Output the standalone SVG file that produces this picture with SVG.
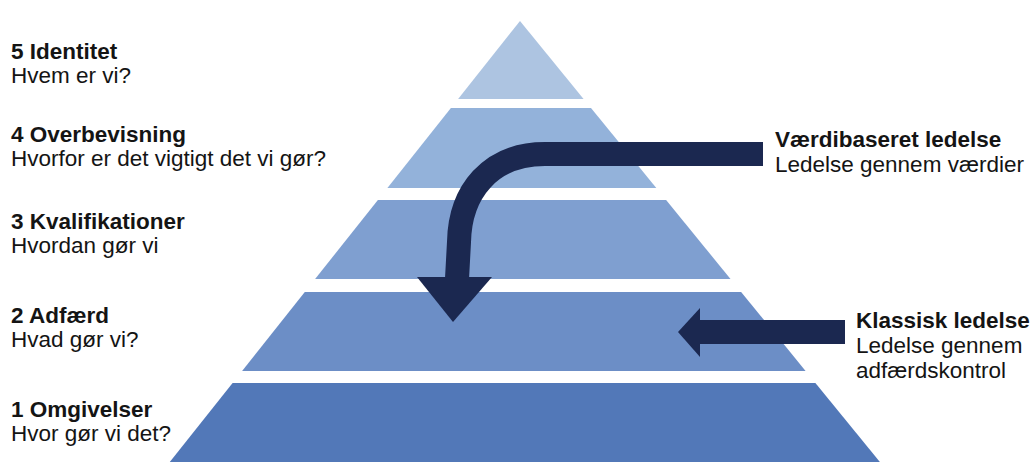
<svg xmlns="http://www.w3.org/2000/svg" width="1033" height="462" viewBox="0 0 1033 462">
  <style>
    text { font-family: "Liberation Sans", Arial, sans-serif; fill: #141414; font-size: 22.5px; }
    .t { font-weight: bold; }
    .shaft { fill: none; stroke: #1b2850; stroke-width: 24; }
    .head { fill: #1b2850; }
  </style>
  <rect width="1033" height="462" fill="#ffffff"/>
  <g id="layer5">
    <polygon points="520,21 583.6,99 458.1,99" fill="#adc4e1"/>
    <text class="t" x="11" y="59">5 Identitet</text>
    <text x="11" y="83">Hvem er vi?</text>
  </g>
  <g id="layer4">
    <polygon points="450.9,108 591,108 656.3,188 387.4,188" fill="#93b2da"/>
    <text class="t" x="11" y="142">4 Overbevisning</text>
    <text x="11" y="166">Hvorfor er det vigtigt det vi gør?</text>
  </g>
  <g id="layer3">
    <polygon points="377.9,200 666.1,200 730.5,279 315.1,279" fill="#7f9fd0"/>
    <text class="t" x="11" y="229">3 Kvalifikationer</text>
    <text x="11" y="253">Hvordan gør vi</text>
  </g>
  <g id="layer2">
    <polygon points="304.8,292 741.1,292 805.6,371 242.1,371" fill="#6c8ec6"/>
    <text class="t" x="11" y="323">2 Adfærd</text>
    <text x="11" y="347">Hvad gør vi?</text>
  </g>
  <g id="layer1">
    <polygon points="232.6,383 815.4,383 879.9,462 169.8,462" fill="#5278b8"/>
    <text class="t" x="11" y="417">1 Omgivelser</text>
    <text x="11" y="441">Hvor gør vi det?</text>
  </g>
  <g id="vaerdibaseret">
    <text class="t" x="775" y="147">Værdibaseret ledelse</text>
    <text x="775" y="172">Ledelse gennem værdier</text>
  </g>
  <g id="klassisk">
    <text class="t" x="856" y="328">Klassisk ledelse</text>
    <text x="856" y="353">Ledelse gennem</text>
    <text x="856" y="378">adfærdskontrol</text>
  </g>
  <g id="connectors">
    <path class="shaft" d="M763,154 L545,154 C490,154 460,192 459,242 L457,279"/>
    <polygon class="head" points="417,277 492,277 453,322"/>
    <path class="shaft" d="M845,332 L698,332"/>
    <polygon class="head" points="700,308 700,357 678,332"/>
  </g>
</svg>
